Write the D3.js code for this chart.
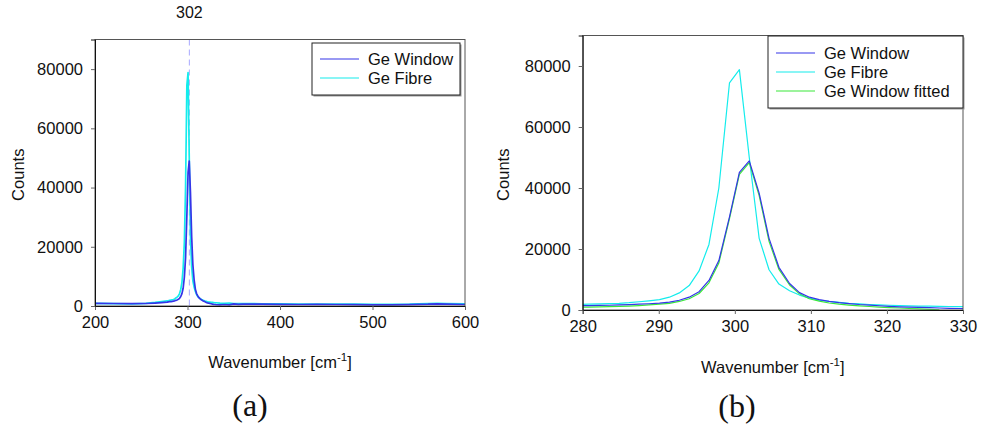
<!DOCTYPE html>
<html>
<head>
<meta charset="utf-8">
<script src="https://cdn.jsdelivr.net/npm/d3@7"></script>
<style>
  body { margin: 0; background: #fff; }
  text { font-family: "Liberation Sans", Arial, sans-serif; fill: #111; }
</style>
</head>
<body>
<script>
// sampled wavenumbers near the Ge peak (both spectra share the grid)
const peakX = [279.5, 280.8, 282.2, 283.5, 284.8, 286.1, 287.4, 288.7, 290.1, 291.4,
  292.7, 294.0, 295.3, 296.6, 297.9, 299.3, 300.6, 301.9, 303.2, 304.5,
  305.8, 307.2, 308.5, 309.8, 311.1, 312.4, 313.7, 315.0, 316.4, 317.7,
  319.0, 320.3, 321.6, 322.9, 324.2, 325.6, 326.9, 328.2, 329.5, 330.8];
const peakWindow = [1400, 1450, 1500, 1550, 1650, 1750, 1900, 2050, 2250, 2600,
  3200, 4200, 6000, 9700, 16200, 30500, 45100, 48900, 38300, 23500,
  14000, 8700, 5700, 4200, 3400, 2800, 2400, 2100, 1800, 1600,
  1400, 1200, 1050, 950, 850, 750, 650, 550, 500, 450];
const peakFibre = [1800, 1900, 2000, 2100, 2200, 2400, 2700, 3000, 3400, 4200,
  5600, 8000, 12800, 21500, 40000, 74500, 78800, 50000, 23500, 13200,
  8500, 6300, 4900, 3900, 3200, 2800, 2500, 2200, 2000, 1800,
  1650, 1550, 1450, 1350, 1300, 1250, 1200, 1150, 1100, 1100];
const fittedWindow = [900, 950, 1000, 1100, 1200, 1300, 1450, 1650, 1900, 2200,
  2800, 3700, 5400, 8900, 15400, 30000, 44500, 48300, 37500, 22500,
  13300, 8200, 5300, 3700, 2900, 2300, 1900, 1600, 1350, 1150,
  950, 800, 650, 500, 380, 200, 50];

// wide-range tails for panel (a)
const leftX = [200, 220, 240, 255, 265, 272, 278];
const leftWindow = [900, 850, 800, 850, 1000, 1150, 1300];
const leftFibre = [900, 800, 750, 900, 1200, 1500, 1700];
const rightX = [335, 340, 345, 350, 355, 360, 380, 400, 420, 440, 460, 480, 500, 520, 540, 560, 570, 580, 600];
const rightWindow = [350, 500, 400, 700, 550, 650, 600, 550, 500, 550, 500, 450, 400, 400, 450, 600, 750, 650, 500];
const rightFibre = [950, 900, 1000, 850, 850, 850, 750, 700, 650, 650, 600, 600, 550, 550, 600, 800, 900, 800, 700];

const xTicksA = [200, 300, 400, 500, 600];
const xTicksB = [280, 290, 300, 310, 320, 330];
const yTicks = [0, 20000, 40000, 60000, 80000];
const peakMark = 302;

const colWindow = "#3535e8", colFibre = "#14ecec", colFit = "#3ae83a";

const svg = d3.select("body").append("svg")
  .attr("width", 984).attr("height", 429);

function zip(xs, ys) { return ys.map((y, i) => [xs[i], y]); }

function panel(opt) {
  const {left, right, top, bottom} = opt;
  const x = d3.scaleLinear().domain(opt.xDomain).range([left, right]);
  const y = d3.scaleLinear().domain([0, 90000]).range([bottom, top]);
  const g = svg.append("g");

  const clipId = "clip" + opt.id;
  g.append("clipPath").attr("id", clipId)
    .append("rect").attr("x", left).attr("y", top)
    .attr("width", right - left).attr("height", bottom - top);

  if (opt.mark) {
    g.append("line")
      .attr("x1", x(opt.mark)).attr("x2", x(opt.mark))
      .attr("y1", top).attr("y2", bottom + 4)
      .attr("stroke", "#a8a8ff").attr("stroke-width", 1)
      .attr("stroke-dasharray", "6,4");
    g.append("text").attr("x", x(opt.mark)).attr("y", 18)
      .attr("text-anchor", "middle").style("font-size", "16px")
      .text(opt.mark);
  }

  const line = d3.line().x(d => x(d[0])).y(d => y(d[1]));
  const plot = g.append("g").attr("clip-path", `url(#${clipId})`);
  opt.series.forEach(s => {
    plot.append("path").datum(s.data)
      .attr("d", line).attr("fill", "none")
      .attr("stroke", s.color).attr("stroke-width", opt.lw)
      .attr("stroke-linejoin", "round");
  });

  // frame
  g.append("rect").attr("x", left).attr("y", top)
    .attr("width", right - left).attr("height", bottom - top)
    .attr("fill", "none").attr("stroke", "#555").attr("stroke-width", 1);

  const xa = g.append("g").attr("transform", `translate(0,${bottom})`)
    .call(d3.axisBottom(x).tickValues(opt.xTicks).tickSize(4).tickPadding(6));
  const ya = g.append("g").attr("transform", `translate(${left},0)`)
    .call(d3.axisLeft(y).tickValues(yTicks).tickSize(4).tickPadding(8).tickFormat(d3.format("d")));
  [xa, ya].forEach(a => {
    a.select(".domain").attr("stroke", "#111");
    a.selectAll(".tick line").attr("stroke", "#666");
    a.selectAll("text").style("font-size", "16.5px").attr("fill", "#111")
      .style("font-family", '"Liberation Sans", Arial, sans-serif');
  });

  // axis titles
  g.append("text")
    .attr("transform", `translate(${opt.yLabelX},${(top + bottom) / 2 + 2}) rotate(-90)`)
    .attr("text-anchor", "middle").style("font-size", "16.5px").text("Counts");
  const xt = g.append("text").attr("x", (left + right) / 2).attr("y", opt.xLabelY)
    .attr("text-anchor", "middle").style("font-size", "16.5px");
  xt.append("tspan").text("Wavenumber [cm");
  xt.append("tspan").attr("dy", -7).style("font-size", "11.5px").text("-1");
  xt.append("tspan").attr("dy", 7).text("]");

  g.append("text")
    .attr("x", opt.capX).attr("y", opt.capY)
    .attr("text-anchor", "middle").style("font-size", "32px")
    .style("font-family", '"Liberation Serif", serif')
    .text(opt.caption);

  // legend
  const L = opt.legend;
  const lg = g.append("g");
  lg.append("rect").attr("x", L.x + 1.5).attr("y", L.y + 1.5)
    .attr("width", L.w).attr("height", L.h).attr("fill", "#999");
  lg.append("rect").attr("x", L.x).attr("y", L.y)
    .attr("width", L.w).attr("height", L.h)
    .attr("fill", "#fff").attr("stroke", "#222").attr("stroke-width", 1);
  opt.series.slice().sort((a, b) => a.order - b.order).forEach((s, i) => {
    const yy = L.y + L.first + i * 19;
    lg.append("line").attr("x1", L.x + 8).attr("x2", L.x + 47)
      .attr("y1", yy).attr("y2", yy)
      .attr("stroke", s.color).attr("stroke-width", 1.2);
    lg.append("text").attr("x", L.x + 56).attr("y", yy + 5.5)
      .style("font-size", "16.5px").text(s.name);
  });
}

const wideWindow = zip(leftX, leftWindow).concat(zip(peakX, peakWindow), zip(rightX, rightWindow));
const wideFibre = zip(leftX, leftFibre).concat(zip(peakX, peakFibre), zip(rightX, rightFibre));

panel({
  id: "a", left: 95, right: 465, top: 39.5, bottom: 306,
  xDomain: [200, 600], xTicks: xTicksA, mark: peakMark, lw: 1.7,
  series: [
    {name: "Ge Fibre", data: wideFibre, color: colFibre, order: 1},
    {name: "Ge Window", data: wideWindow, color: colWindow, order: 0}
  ],
  yLabelX: 24, xLabelY: 368, caption: "(a)", capX: 250, capY: 416,
  legend: {x: 312, y: 43, w: 148, h: 52, first: 16}
});

panel({
  id: "b", left: 582.7, right: 963, top: 35.5, bottom: 310,
  xDomain: [280, 330], xTicks: xTicksB, lw: 1.2,
  series: [
    {name: "Ge Fibre", data: zip(peakX, peakFibre), color: colFibre, order: 1},
    {name: "Ge Window fitted", data: zip(peakX, fittedWindow), color: colFit, order: 2},
    {name: "Ge Window", data: zip(peakX, peakWindow), color: colWindow, order: 0}
  ],
  yLabelX: 509, xLabelY: 373, caption: "(b)", capX: 737, capY: 417,
  legend: {x: 768, y: 36, w: 195, h: 72, first: 17}
});
</script>
</body>
</html>
